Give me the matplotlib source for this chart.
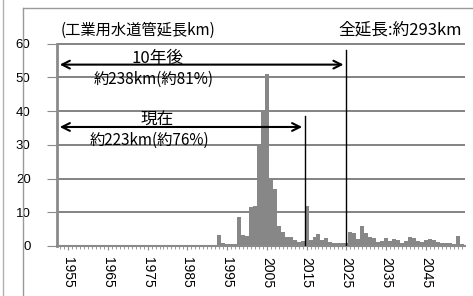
import matplotlib
matplotlib.use('Agg')
import matplotlib.pyplot as plt
import numpy as np

# 年別の工業用水道管延長 (km)
years = np.arange(1953, 2055)
lengths_1993_on = [
    3.3, 1.0, 0.5, 0.5, 0.5, 8.5, 3.2, 3.0, 11.5, 12.0,   # 1993-2002
    30.0, 40.0, 51.0, 20.0, 17.0, 6.0, 4.2, 2.7, 2.7, 1.8,  # 2003-2012
    1.3, 1.5, 12.0, 1.8, 2.7, 3.7, 1.8, 2.3, 1.3, 0.8,      # 2013-2022
    0.8, 0.8, 0.8, 4.2, 3.8, 2.0, 6.0, 3.8, 2.7, 2.5,      # 2023-2032
    1.3, 1.5, 2.3, 1.5, 2.0, 1.8, 1.0, 1.5, 2.7, 2.5,      # 2033-2042
    1.5, 1.3, 1.8, 2.0, 1.8, 1.2, 1.0, 1.0, 0.8, 0.6,      # 2043-2052
    3.0, 0.5,                                              # 2053-2054
]
lengths = [0.15] * (1993 - 1953) + lengths_1993_on

now_year, future_year = 2014.6, 2025.0
now_arrow_y, future_arrow_y = 35.3, 53.8
now_line_top, future_line_top = 38.5, 58.0
xtick_years = list(range(1955, 2055, 10))
ytick_values = list(range(0, 61, 10))

jp = ['Noto Sans CJK JP', 'DejaVu Sans']

fig = plt.figure(figsize=(4.73, 2.96), dpi=100)
ax = fig.add_axes([0.1205, 0.169, 0.862, 0.689])

# 横の目盛線
ax.hlines(ytick_values[1:], 1952.2, 2054.8, colors='#7a7a7a', lw=1.3, zorder=1)

ax.bar(years, lengths, width=1.0, color='#878787', edgecolor='none', zorder=2)

ax.set_xlim(1952.2, 2054.8)
ax.set_ylim(0, 60.5)
ax.set_yticks(ytick_values)
ax.set_xticks(xtick_years)
ax.set_xticks(years, minor=True)
ax.set_xticklabels([str(y) for y in xtick_years], rotation=-90,
                   fontsize=10, family='Liberation Sans')
for lab in ax.get_yticklabels():
    lab.set_family('Liberation Sans')
    lab.set_fontsize(9.5)
ax.tick_params(axis='y', length=7, color='#8a8a8a', pad=12, left=True)
ax.tick_params(axis='x', which='major', length=3, color='#8a8a8a', pad=5)
ax.tick_params(axis='x', which='minor', length=2, color='#8a8a8a')

for s in ['top', 'right']:
    ax.spines[s].set_visible(False)
ax.spines['left'].set_color('#8a8a8a')
ax.spines['left'].set_linewidth(2)
ax.spines['left'].set_bounds(0, 60)
ax.spines['bottom'].set_color('#8a8a8a')
ax.spines['bottom'].set_linewidth(1.5)

# 縦線と矢印
ax.plot([now_year, now_year], [0, now_line_top], color='black', lw=1, zorder=3)
ax.plot([future_year, future_year], [0, future_line_top], color='black', lw=1, zorder=3)
arrow = dict(arrowstyle='<->', color='black', lw=1.5, mutation_scale=14)
ax.annotate('', xy=(1952.2, future_arrow_y), xytext=(future_year, future_arrow_y),
            arrowprops=arrow, zorder=4)
ax.annotate('', xy=(1952.2, now_arrow_y), xytext=(now_year, now_arrow_y),
            arrowprops=arrow, zorder=4)

ax.text(1977.5, 55.6, '10年後', ha='center', va='center', fontsize=12, family=jp)
ax.text(1976.5, 49.4, '約238km(約81%)', ha='center', va='center', fontsize=11, family=jp)
ax.text(1977.5, 37.6, '現在', ha='center', va='center', fontsize=12, family=jp)
ax.text(1975.5, 31.2, '約223km(約76%)', ha='center', va='center', fontsize=11, family=jp)

fig.text(138 / 473, 1 - 30 / 296, '(工業用水道管延長km)', ha='center', va='center',
         fontsize=11, family=jp)
fig.text(462 / 473, 1 - 30 / 296, '全延長:約293km', ha='right', va='center',
         fontsize=12, family=jp)

# 外枠
fig.add_artist(plt.Line2D([23 / 473, 23 / 473], [0, 1 - 8 / 296], color='#9a9a9a', lw=1))
fig.add_artist(plt.Line2D([23 / 473, 1], [1 - 8 / 296, 1 - 8 / 296], color='#9a9a9a', lw=1))
fig.add_artist(plt.Line2D([3 / 473, 3 / 473], [0, 1], color='#b0b0b0', lw=1))

fig.savefig('out.png', dpi=100)
plt.close(fig)
